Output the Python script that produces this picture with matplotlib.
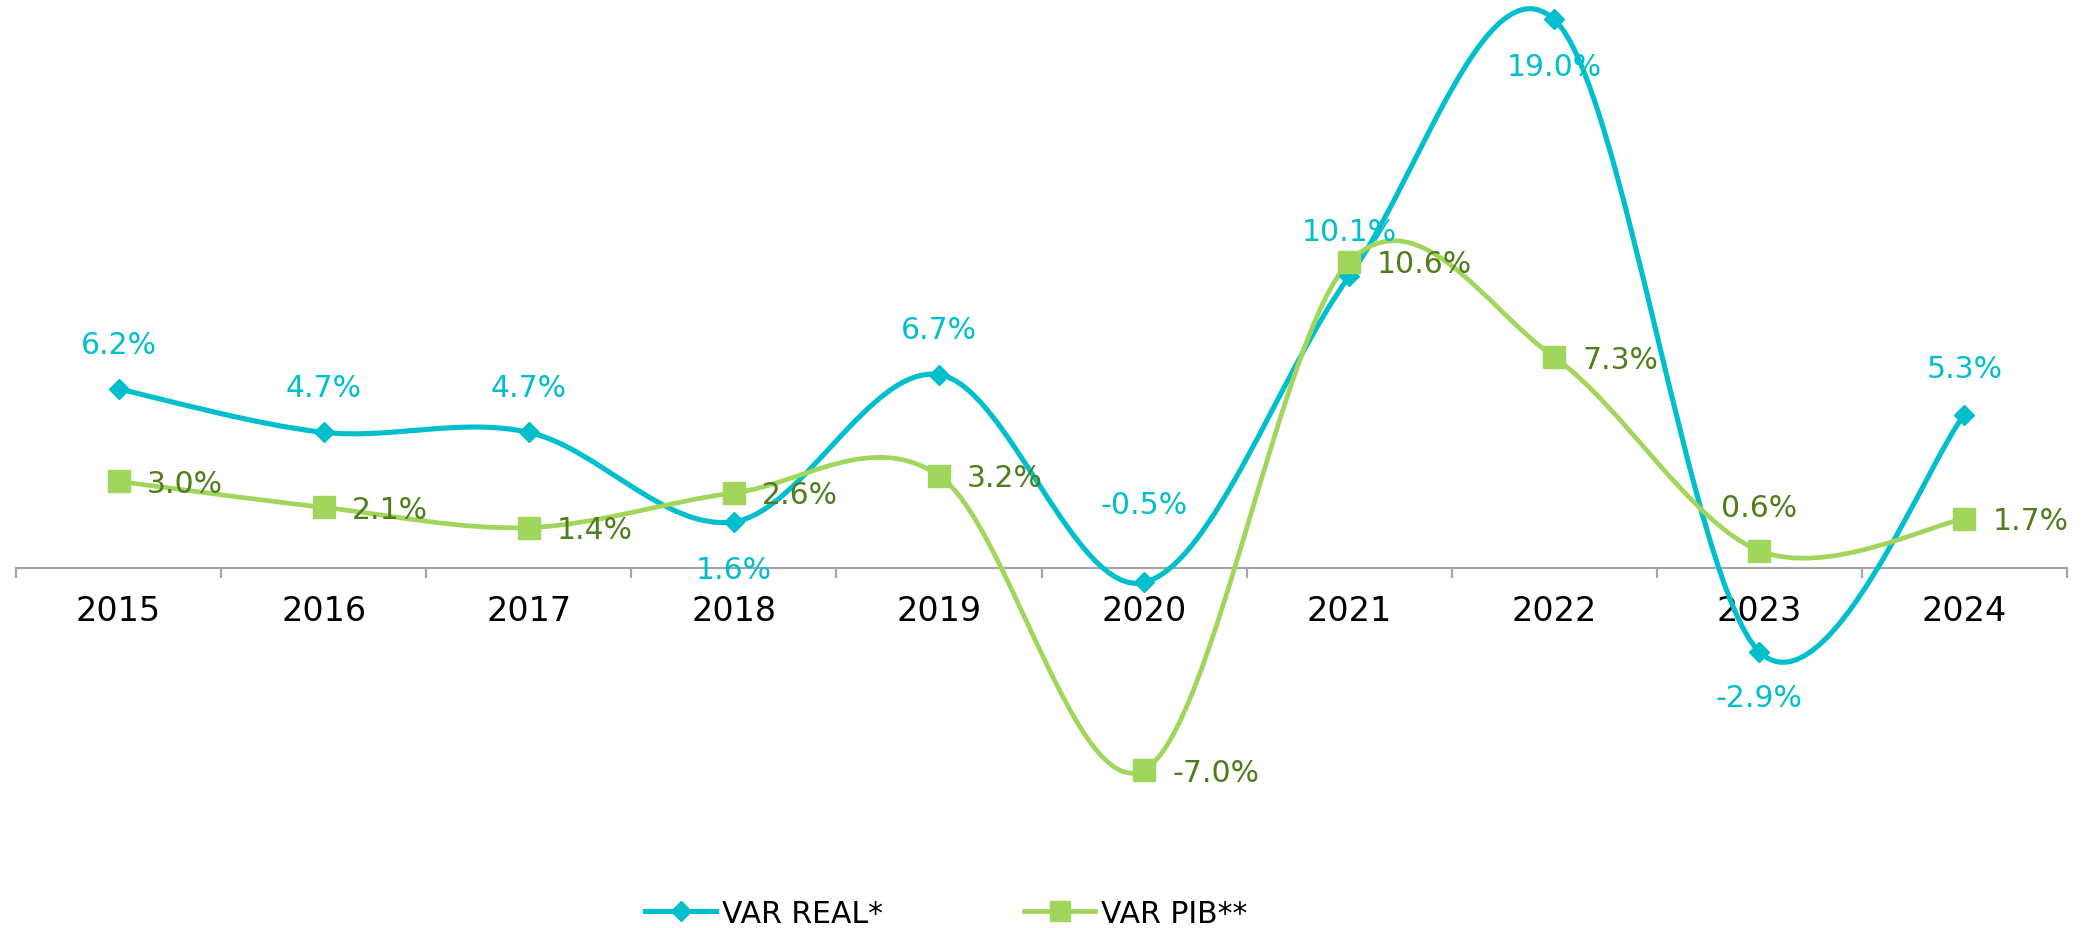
import matplotlib
matplotlib.use("Agg")
import matplotlib.pyplot as plt
from matplotlib.path import Path
from matplotlib.patches import PathPatch
from matplotlib.lines import Line2D

# datos
years = ['2015', '2016', '2017', '2018', '2019', '2020', '2021', '2022', '2023', '2024']
var_real = [6.2, 4.7, 4.7, 1.6, 6.7, -0.5, 10.1, 19.0, -2.9, 5.3]
var_pib = [3.0, 2.1, 1.4, 2.6, 3.2, -7.0, 10.6, 7.3, 0.6, 1.7]

CYAN = '#00BFCC'
GREEN = '#A0D65B'
GREEN_TXT = '#4E7E1C'
GRAY = '#A6A6A6'

plt.rcParams['font.family'] = ['DejaVu Sans']


def smooth_path(xs, ys):
    # curva suavizada tipo Excel (Catmull-Rom -> Bezier)
    pts = list(zip(xs, ys))
    verts = [pts[0]]
    codes = [Path.MOVETO]
    n = len(pts)
    for i in range(n - 1):
        p0 = pts[i - 1] if i > 0 else pts[i]
        p1 = pts[i]
        p2 = pts[i + 1]
        p3 = pts[i + 2] if i + 2 < n else pts[i + 1]
        c1 = (p1[0] + (p2[0] - p0[0]) / 6, p1[1] + (p2[1] - p0[1]) / 6)
        c2 = (p2[0] - (p3[0] - p1[0]) / 6, p2[1] - (p3[1] - p1[1]) / 6)
        verts += [c1, c2, p2]
        codes += [Path.CURVE4] * 3
    return Path(verts, codes)


fig = plt.figure(figsize=(20.98, 9.29), dpi=100)
ax = fig.add_axes([16 / 2098, 69 / 929, (2067 - 16) / 2098, 860 / 929])
x = list(range(len(years)))

# linhas suavizadas
ax.add_patch(PathPatch(smooth_path(x, var_real), fill=False, edgecolor=CYAN,
                       lw=3.7, capstyle='round', zorder=3))
ax.add_patch(PathPatch(smooth_path(x, var_pib), fill=False, edgecolor=GREEN,
                       lw=3.4, capstyle='round', zorder=4))

# marcadores
ax.plot(x, var_real, ls='none', marker='D', ms=10.5, color=CYAN, zorder=5)
ax.plot(x, var_pib, ls='none', marker='s', ms=16, color=GREEN, zorder=6)

# rótulos
real_off = [45, 45, 45, -48, 45, 78, 45, -47, -46, 46]
for xi, v, off in zip(x, var_real, real_off):
    ax.annotate(f'{v:.1f}%', (xi, v), xytext=(0, off), textcoords='offset pixels',
                ha='center', va='center', color=CYAN, fontsize=21.5, zorder=7)

for xi, v in zip(x, var_pib):
    if abs(v - 0.6) < 1e-9:
        ax.annotate(f'{v:.1f}%', (xi, v), xytext=(0, 43), textcoords='offset pixels',
                    ha='center', va='center', color=GREEN_TXT, fontsize=21.5, zorder=7)
    else:
        ax.annotate(f'{v:.1f}%', (xi, v), xytext=(28, -2), textcoords='offset pixels',
                    ha='left', va='center', color=GREEN_TXT, fontsize=21.5, zorder=7)

# eixos
ax.set_xlim(-0.5, len(years) - 0.5)
ax.set_ylim(-10.08, 19.71)
for s in ['top', 'right', 'left']:
    ax.spines[s].set_visible(False)
ax.spines['bottom'].set_position(('data', 0))
ax.spines['bottom'].set_color(GRAY)
ax.spines['bottom'].set_linewidth(1.6)
ax.set_yticks([])
ax.set_xticks([i - 0.5 for i in range(len(years) + 1)])
ax.set_xticklabels([])
ax.tick_params(axis='x', which='major', direction='out', length=7.5, width=1.6, color=GRAY)
ax.set_xticks(x, minor=True)
ax.set_xticklabels(years, minor=True)
ax.tick_params(axis='x', which='minor', length=0, pad=19, labelsize=24, labelcolor='black')

# legenda
handles = [
    Line2D([], [], color=CYAN, lw=3.7, marker='D', ms=10.5),
    Line2D([], [], color=GREEN, lw=3.4, marker='s', ms=14),
]
fig.legend(handles, ['VAR REAL*', 'VAR PIB**'], loc='center', ncol=2,
           bbox_to_anchor=(0.451, 0.016), frameon=False, fontsize=21.5,
           handlelength=2.4, handletextpad=0.2, columnspacing=4.7)

fig.savefig('out.png', dpi=100)
